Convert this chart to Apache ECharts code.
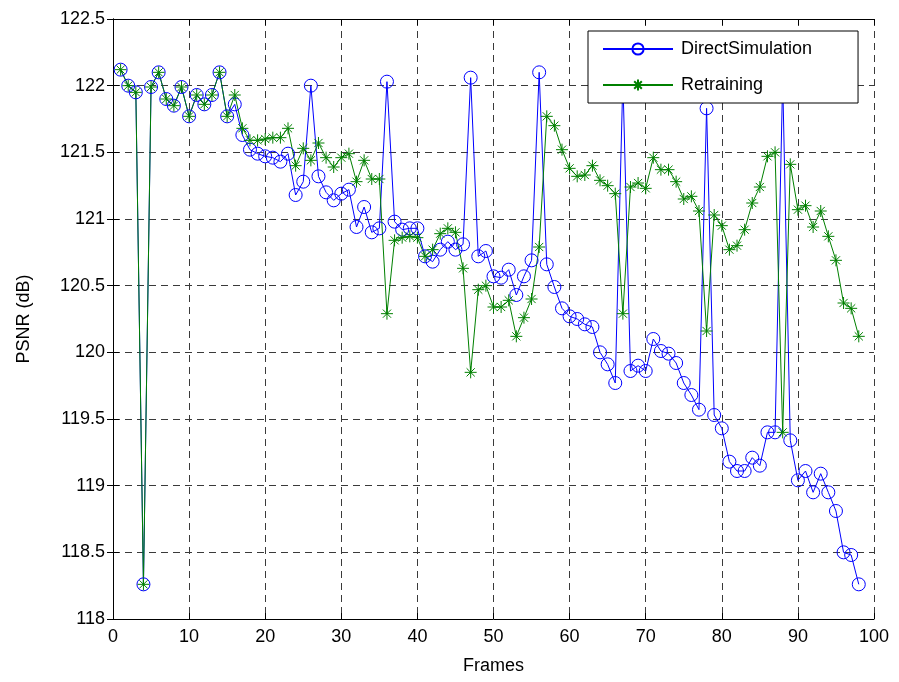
<!DOCTYPE html>
<html>
<head>
<meta charset="utf-8">
<script src="https://cdn.jsdelivr.net/npm/echarts@6/dist/echarts.min.js"></script>
<style>
html,body{margin:0;padding:0;background:#fff;}
#chart{width:899px;height:682px;}
</style>
</head>
<body>
<div id="chart"></div>
<script>
var frames = [1,2,3,4,5,6,7,8,9,10,11,12,13,14,15,16,17,18,19,20,21,22,23,24,25,26,27,28,29,30,31,32,33,34,35,36,37,38,39,40,41,42,43,44,45,46,47,48,49,50,51,52,53,54,55,56,57,58,59,60,61,62,63,64,65,66,67,68,69,70,71,72,73,74,75,76,77,78,79,80,81,82,83,84,85,86,87,88,89,90,91,92,93,94,95,96,97,98];

var directSimulation = [122.12,122.0,121.95,118.26,121.99,122.1,121.9,121.85,121.99,121.77,
121.93,121.86,121.93,122.1,121.77,121.86,121.63,121.52,121.49,121.47,
121.46,121.43,121.49,121.18,121.28,122.0,121.32,121.2,121.14,121.19,
121.22,120.94,121.09,120.9,120.93,122.03,120.98,120.92,120.93,120.93,
120.72,120.68,120.77,120.83,120.77,120.81,122.06,120.72,120.76,120.57,
120.56,120.62,120.43,120.57,120.69,122.1,120.66,120.49,120.33,120.27,
120.25,120.21,120.19,120.0,119.91,119.77,122.05,119.86,119.9,119.86,
120.1,120.01,119.99,119.92,119.77,119.68,119.57,121.83,119.53,119.43,
119.18,119.11,119.11,119.21,119.15,119.4,119.4,122.05,119.34,119.04,
119.11,118.95,119.09,118.95,118.81,118.5,118.48,118.26];

var retraining = [122.12,122.0,121.95,118.26,121.99,122.1,121.9,121.85,121.99,121.77,
121.93,121.86,121.93,122.1,121.77,121.93,121.68,121.59,121.59,121.6,
121.61,121.61,121.68,121.4,121.53,121.44,121.57,121.46,121.39,121.46,
121.49,121.28,121.44,121.3,121.3,120.29,120.84,120.86,120.87,120.86,
120.72,120.77,120.89,120.93,120.9,120.63,119.85,120.47,120.5,120.34,
120.34,120.39,120.12,120.26,120.4,120.79,121.77,121.7,121.52,121.38,
121.32,121.33,121.4,121.29,121.25,121.19,120.29,121.24,121.27,121.23,
121.46,121.37,121.37,121.28,121.15,121.17,121.06,120.16,121.03,120.95,
120.77,120.8,120.92,121.12,121.24,121.47,121.5,119.4,121.41,121.07,
121.1,120.94,121.06,120.87,120.69,120.37,120.33,120.12];

var seriesNames = ['DirectSimulation', 'Retraining'];

function pairs(vals) {
  return frames.map(function (f, i) { return [f, vals[i]]; });
}

var FONT = '"Liberation Sans", Arial, sans-serif';
var gridLine = { show: true, lineStyle: { color: '#3a3a3a', type: [7, 5], width: 1 } };
var tickIn = { show: true, inside: true, length: 6, lineStyle: { color: '#000' } };
var axisLine = { show: true, lineStyle: { color: '#000', width: 1 } };
var starPath = 'path://M5,0L5,10M0,5L10,5M1.6,1.6L8.4,8.4M1.6,8.4L8.4,1.6';

var chart = echarts.init(document.getElementById('chart'), null, { renderer: 'canvas' });
chart.setOption({
  animation: false,
  backgroundColor: '#fff',
  grid: { left: 113, top: 19, width: 761, height: 600, containLabel: false },
  legend: {
    orient: 'vertical',
    left: 588,
    top: 31,
    padding: [9, 46, 9, 14],
    itemGap: 18,
    itemWidth: 70,
    itemHeight: 14,
    backgroundColor: '#fff',
    borderColor: '#000',
    borderWidth: 1,
    textStyle: { fontFamily: FONT, fontSize: 18, color: '#000', padding: [0, 0, 0, 3] },
    data: seriesNames
  },
  xAxis: [{
    type: 'value', min: 0, max: 100, interval: 10,
    name: 'Frames', nameLocation: 'middle', nameGap: 38,
    nameTextStyle: { fontFamily: FONT, fontSize: 18, color: '#000' },
    axisLine: axisLine, axisTick: tickIn,
    axisLabel: { fontFamily: FONT, fontSize: 18, color: '#000', margin: 9 },
    splitLine: gridLine
  }, {
    type: 'value', min: 0, max: 100, interval: 10, position: 'top',
    axisLine: axisLine, axisTick: tickIn, axisLabel: { show: false }, splitLine: { show: false }
  }],
  yAxis: [{
    type: 'value', min: 118, max: 122.5, interval: 0.5,
    name: 'PSNR (dB)', nameLocation: 'middle', nameGap: 80,
    nameTextStyle: { fontFamily: FONT, fontSize: 18, color: '#000' },
    axisLine: axisLine, axisTick: tickIn,
    axisLabel: { fontFamily: FONT, fontSize: 18, color: '#000', margin: 8 },
    splitLine: gridLine
  }, {
    type: 'value', min: 118, max: 122.5, interval: 0.5, position: 'right',
    axisLine: axisLine, axisTick: tickIn, axisLabel: { show: false }, splitLine: { show: false }
  }],
  series: [{
    name: seriesNames[0],
    type: 'line',
    data: pairs(directSimulation),
    symbol: 'circle',
    symbolSize: 13,
    showAllSymbol: true,
    lineStyle: { color: '#0000ff', width: 1 },
    itemStyle: { color: 'rgba(0,0,0,0)', borderColor: '#0000ff', borderWidth: 1 }
  }, {
    name: seriesNames[1],
    type: 'line',
    data: pairs(retraining),
    symbol: starPath,
    symbolSize: 12,
    showAllSymbol: true,
    lineStyle: { color: '#008000', width: 1 },
    itemStyle: { color: 'rgba(0,0,0,0)', borderColor: '#008000', borderWidth: 1 }
  }]
});
</script>
</body>
</html>
